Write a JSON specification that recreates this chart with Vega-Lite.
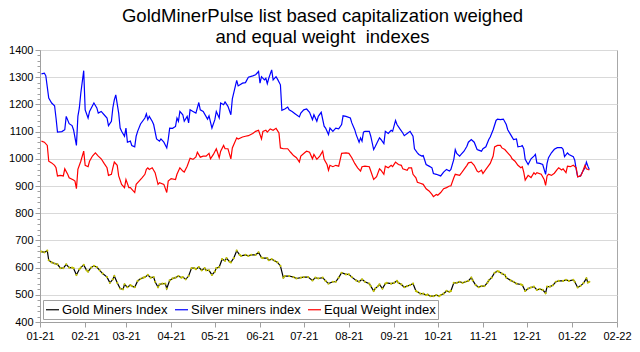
{
  "$schema": "https://vega.github.io/schema/vega-lite/v6.json",
  "width": 577,
  "height": 272,
  "autosize": "none",
  "padding": {"left": 40, "top": 50, "right": 23, "bottom": 30},
  "background": "white",
  "title": {
    "text": ["GoldMinerPulse list based capitalization weighed", "and equal weight \u00a0indexes"],
    "font": "Liberation Sans", "fontSize": 18.5, "fontWeight": "normal", "color": "#000000",
    "anchor": "middle", "lineHeight": 21, "offset": -2, "dx": -6
  },
  "config": {
    "view": {"stroke": "#a8a8a8", "strokeWidth": 1},
    "axis": {"labelFont": "Liberation Sans", "labelFontSize": 11, "labelColor": "#000000", "domainColor": "#a0a0a0", "tickColor": "#a0a0a0", "title": null},
    "legend": {
      "orient": "bottom-left", "direction": "horizontal", "title": null,
      "strokeColor": "#a0a0a0", "fillColor": "white", "padding": 2, "offset": 3,
      "labelFont": "Liberation Sans", "labelFontSize": 13, "labelColor": "#000000",
      "symbolType": "stroke", "symbolSize": 169, "symbolStrokeWidth": 1.2, "columnPadding": 4, "labelOffset": 2
    }
  },
  "data": {
    "format": {"parse": {"date": "date:'%Y-%j'"}},
    "values": [
      {"series":"Silver miners index","date":"2021-002","value":1312},{"series":"Silver miners index","date":"2021-004","value":1315},{"series":"Silver miners index","date":"2021-005","value":1305},{"series":"Silver miners index","date":"2021-007","value":1223},{"series":"Silver miners index","date":"2021-009","value":1205},{"series":"Silver miners index","date":"2021-011","value":1195},{"series":"Silver miners index","date":"2021-012","value":1150},{"series":"Silver miners index","date":"2021-013","value":1098},{"series":"Silver miners index","date":"2021-016","value":1100},{"series":"Silver miners index","date":"2021-018","value":1107},{"series":"Silver miners index","date":"2021-019","value":1156},{"series":"Silver miners index","date":"2021-021","value":1129},{"series":"Silver miners index","date":"2021-023","value":1122},{"series":"Silver miners index","date":"2021-024","value":1107},{"series":"Silver miners index","date":"2021-026","value":1049},{"series":"Silver miners index","date":"2021-027","value":1156},{"series":"Silver miners index","date":"2021-028","value":1187},{"series":"Silver miners index","date":"2021-029","value":1241},{"series":"Silver miners index","date":"2021-031","value":1324},{"series":"Silver miners index","date":"2021-032","value":1180},{"series":"Silver miners index","date":"2021-034","value":1150},{"series":"Silver miners index","date":"2021-035","value":1174},{"series":"Silver miners index","date":"2021-038","value":1205},{"series":"Silver miners index","date":"2021-040","value":1187},{"series":"Silver miners index","date":"2021-041","value":1168},{"series":"Silver miners index","date":"2021-043","value":1174},{"series":"Silver miners index","date":"2021-045","value":1162},{"series":"Silver miners index","date":"2021-047","value":1150},{"series":"Silver miners index","date":"2021-048","value":1122},{"series":"Silver miners index","date":"2021-050","value":1138},{"series":"Silver miners index","date":"2021-051","value":1187},{"series":"Silver miners index","date":"2021-052","value":1217},{"series":"Silver miners index","date":"2021-053","value":1235},{"series":"Silver miners index","date":"2021-055","value":1168},{"series":"Silver miners index","date":"2021-056","value":1113},{"series":"Silver miners index","date":"2021-057","value":1101},{"series":"Silver miners index","date":"2021-059","value":1083},{"series":"Silver miners index","date":"2021-060","value":1113},{"series":"Silver miners index","date":"2021-061","value":1061},{"series":"Silver miners index","date":"2021-063","value":1065},{"series":"Silver miners index","date":"2021-064","value":1049},{"series":"Silver miners index","date":"2021-066","value":1044},{"series":"Silver miners index","date":"2021-067","value":1083},{"series":"Silver miners index","date":"2021-068","value":1101},{"series":"Silver miners index","date":"2021-070","value":1128},{"series":"Silver miners index","date":"2021-073","value":1150},{"series":"Silver miners index","date":"2021-074","value":1165},{"series":"Silver miners index","date":"2021-075","value":1144},{"series":"Silver miners index","date":"2021-076","value":1156},{"series":"Silver miners index","date":"2021-078","value":1138},{"series":"Silver miners index","date":"2021-079","value":1126},{"series":"Silver miners index","date":"2021-081","value":1073},{"series":"Silver miners index","date":"2021-083","value":1065},{"series":"Silver miners index","date":"2021-084","value":1073},{"series":"Silver miners index","date":"2021-086","value":1061},{"series":"Silver miners index","date":"2021-088","value":1040},{"series":"Silver miners index","date":"2021-089","value":1071},{"series":"Silver miners index","date":"2021-090","value":1113},{"series":"Silver miners index","date":"2021-092","value":1112},{"series":"Silver miners index","date":"2021-094","value":1119},{"series":"Silver miners index","date":"2021-095","value":1150},{"series":"Silver miners index","date":"2021-096","value":1138},{"series":"Silver miners index","date":"2021-097","value":1174},{"series":"Silver miners index","date":"2021-099","value":1162},{"series":"Silver miners index","date":"2021-100","value":1138},{"series":"Silver miners index","date":"2021-102","value":1156},{"series":"Silver miners index","date":"2021-103","value":1132},{"series":"Silver miners index","date":"2021-104","value":1180},{"series":"Silver miners index","date":"2021-106","value":1174},{"series":"Silver miners index","date":"2021-108","value":1168},{"series":"Silver miners index","date":"2021-110","value":1207},{"series":"Silver miners index","date":"2021-111","value":1180},{"series":"Silver miners index","date":"2021-113","value":1174},{"series":"Silver miners index","date":"2021-116","value":1146},{"series":"Silver miners index","date":"2021-117","value":1158},{"series":"Silver miners index","date":"2021-119","value":1113},{"series":"Silver miners index","date":"2021-121","value":1144},{"series":"Silver miners index","date":"2021-122","value":1174},{"series":"Silver miners index","date":"2021-124","value":1150},{"series":"Silver miners index","date":"2021-125","value":1205},{"series":"Silver miners index","date":"2021-127","value":1199},{"series":"Silver miners index","date":"2021-128","value":1209},{"series":"Silver miners index","date":"2021-130","value":1193},{"series":"Silver miners index","date":"2021-132","value":1162},{"series":"Silver miners index","date":"2021-133","value":1220},{"series":"Silver miners index","date":"2021-136","value":1288},{"series":"Silver miners index","date":"2021-137","value":1268},{"series":"Silver miners index","date":"2021-140","value":1278},{"series":"Silver miners index","date":"2021-142","value":1280},{"series":"Silver miners index","date":"2021-144","value":1300},{"series":"Silver miners index","date":"2021-147","value":1305},{"series":"Silver miners index","date":"2021-149","value":1309},{"series":"Silver miners index","date":"2021-151","value":1321},{"series":"Silver miners index","date":"2021-152","value":1278},{"series":"Silver miners index","date":"2021-153","value":1302},{"series":"Silver miners index","date":"2021-155","value":1290},{"series":"Silver miners index","date":"2021-156","value":1296},{"series":"Silver miners index","date":"2021-157","value":1276},{"series":"Silver miners index","date":"2021-158","value":1296},{"series":"Silver miners index","date":"2021-160","value":1327},{"series":"Silver miners index","date":"2021-161","value":1290},{"series":"Silver miners index","date":"2021-163","value":1302},{"series":"Silver miners index","date":"2021-164","value":1293},{"series":"Silver miners index","date":"2021-166","value":1272},{"series":"Silver miners index","date":"2021-167","value":1178},{"series":"Silver miners index","date":"2021-169","value":1183},{"series":"Silver miners index","date":"2021-171","value":1190},{"series":"Silver miners index","date":"2021-172","value":1180},{"series":"Silver miners index","date":"2021-174","value":1174},{"series":"Silver miners index","date":"2021-176","value":1166},{"series":"Silver miners index","date":"2021-179","value":1154},{"series":"Silver miners index","date":"2021-180","value":1168},{"series":"Silver miners index","date":"2021-182","value":1180},{"series":"Silver miners index","date":"2021-184","value":1183},{"series":"Silver miners index","date":"2021-186","value":1171},{"series":"Silver miners index","date":"2021-188","value":1144},{"series":"Silver miners index","date":"2021-189","value":1162},{"series":"Silver miners index","date":"2021-191","value":1138},{"series":"Silver miners index","date":"2021-192","value":1156},{"series":"Silver miners index","date":"2021-194","value":1171},{"series":"Silver miners index","date":"2021-196","value":1120},{"series":"Silver miners index","date":"2021-197","value":1113},{"series":"Silver miners index","date":"2021-199","value":1089},{"series":"Silver miners index","date":"2021-200","value":1113},{"series":"Silver miners index","date":"2021-202","value":1101},{"series":"Silver miners index","date":"2021-204","value":1113},{"series":"Silver miners index","date":"2021-206","value":1110},{"series":"Silver miners index","date":"2021-208","value":1126},{"series":"Silver miners index","date":"2021-209","value":1158},{"series":"Silver miners index","date":"2021-211","value":1156},{"series":"Silver miners index","date":"2021-214","value":1150},{"series":"Silver miners index","date":"2021-215","value":1132},{"series":"Silver miners index","date":"2021-217","value":1107},{"series":"Silver miners index","date":"2021-218","value":1089},{"series":"Silver miners index","date":"2021-220","value":1061},{"series":"Silver miners index","date":"2021-221","value":1077},{"series":"Silver miners index","date":"2021-222","value":1065},{"series":"Silver miners index","date":"2021-223","value":1098},{"series":"Silver miners index","date":"2021-224","value":1101},{"series":"Silver miners index","date":"2021-227","value":1101},{"series":"Silver miners index","date":"2021-228","value":1083},{"series":"Silver miners index","date":"2021-230","value":1034},{"series":"Silver miners index","date":"2021-231","value":1044},{"series":"Silver miners index","date":"2021-234","value":1077},{"series":"Silver miners index","date":"2021-235","value":1071},{"series":"Silver miners index","date":"2021-237","value":1056},{"series":"Silver miners index","date":"2021-238","value":1101},{"series":"Silver miners index","date":"2021-240","value":1093},{"series":"Silver miners index","date":"2021-242","value":1105},{"series":"Silver miners index","date":"2021-243","value":1101},{"series":"Silver miners index","date":"2021-245","value":1141},{"series":"Silver miners index","date":"2021-246","value":1126},{"series":"Silver miners index","date":"2021-248","value":1110},{"series":"Silver miners index","date":"2021-250","value":1095},{"series":"Silver miners index","date":"2021-251","value":1085},{"series":"Silver miners index","date":"2021-253","value":1093},{"series":"Silver miners index","date":"2021-255","value":1101},{"series":"Silver miners index","date":"2021-257","value":1083},{"series":"Silver miners index","date":"2021-258","value":1037},{"series":"Silver miners index","date":"2021-260","value":1022},{"series":"Silver miners index","date":"2021-261","value":1016},{"series":"Silver miners index","date":"2021-263","value":1010},{"series":"Silver miners index","date":"2021-264","value":1012},{"series":"Silver miners index","date":"2021-266","value":979},{"series":"Silver miners index","date":"2021-268","value":973},{"series":"Silver miners index","date":"2021-270","value":967},{"series":"Silver miners index","date":"2021-271","value":946},{"series":"Silver miners index","date":"2021-273","value":943},{"series":"Silver miners index","date":"2021-275","value":939},{"series":"Silver miners index","date":"2021-276","value":937},{"series":"Silver miners index","date":"2021-278","value":951},{"series":"Silver miners index","date":"2021-280","value":961},{"series":"Silver miners index","date":"2021-282","value":955},{"series":"Silver miners index","date":"2021-283","value":961},{"series":"Silver miners index","date":"2021-285","value":998},{"series":"Silver miners index","date":"2021-286","value":1034},{"series":"Silver miners index","date":"2021-287","value":1020},{"series":"Silver miners index","date":"2021-289","value":1010},{"series":"Silver miners index","date":"2021-290","value":1016},{"series":"Silver miners index","date":"2021-292","value":1028},{"series":"Silver miners index","date":"2021-294","value":1046},{"series":"Silver miners index","date":"2021-295","value":1061},{"series":"Silver miners index","date":"2021-297","value":1071},{"series":"Silver miners index","date":"2021-299","value":1061},{"series":"Silver miners index","date":"2021-301","value":1034},{"series":"Silver miners index","date":"2021-302","value":1032},{"series":"Silver miners index","date":"2021-304","value":1028},{"series":"Silver miners index","date":"2021-305","value":1037},{"series":"Silver miners index","date":"2021-307","value":1044},{"series":"Silver miners index","date":"2021-309","value":1071},{"series":"Silver miners index","date":"2021-310","value":1080},{"series":"Silver miners index","date":"2021-312","value":1107},{"series":"Silver miners index","date":"2021-314","value":1141},{"series":"Silver miners index","date":"2021-315","value":1146},{"series":"Silver miners index","date":"2021-317","value":1144},{"series":"Silver miners index","date":"2021-319","value":1146},{"series":"Silver miners index","date":"2021-321","value":1126},{"series":"Silver miners index","date":"2021-322","value":1107},{"series":"Silver miners index","date":"2021-324","value":1089},{"series":"Silver miners index","date":"2021-326","value":1071},{"series":"Silver miners index","date":"2021-328","value":1073},{"series":"Silver miners index","date":"2021-329","value":1044},{"series":"Silver miners index","date":"2021-331","value":1046},{"series":"Silver miners index","date":"2021-332","value":1049},{"series":"Silver miners index","date":"2021-333","value":1037},{"series":"Silver miners index","date":"2021-334","value":998},{"series":"Silver miners index","date":"2021-336","value":979},{"series":"Silver miners index","date":"2021-338","value":1000},{"series":"Silver miners index","date":"2021-340","value":1010},{"series":"Silver miners index","date":"2021-341","value":1016},{"series":"Silver miners index","date":"2021-342","value":985},{"series":"Silver miners index","date":"2021-344","value":983},{"series":"Silver miners index","date":"2021-346","value":979},{"series":"Silver miners index","date":"2021-348","value":943},{"series":"Silver miners index","date":"2021-349","value":983},{"series":"Silver miners index","date":"2021-350","value":1004},{"series":"Silver miners index","date":"2021-352","value":1022},{"series":"Silver miners index","date":"2021-354","value":1035},{"series":"Silver miners index","date":"2021-356","value":1041},{"series":"Silver miners index","date":"2021-359","value":1041},{"series":"Silver miners index","date":"2021-360","value":1035},{"series":"Silver miners index","date":"2021-361","value":1008},{"series":"Silver miners index","date":"2021-363","value":1022},{"series":"Silver miners index","date":"2021-364","value":1016},{"series":"Silver miners index","date":"2022-002","value":1008},{"series":"Silver miners index","date":"2022-003","value":995},{"series":"Silver miners index","date":"2022-004","value":961},{"series":"Silver miners index","date":"2022-005","value":934},{"series":"Silver miners index","date":"2022-007","value":937},{"series":"Silver miners index","date":"2022-008","value":949},{"series":"Silver miners index","date":"2022-010","value":967},{"series":"Silver miners index","date":"2022-011","value":988},{"series":"Silver miners index","date":"2022-012","value":973},{"series":"Silver miners index","date":"2022-013","value":961},
      {"series":"Equal Weight index","date":"2021-002","value":1065},{"series":"Equal Weight index","date":"2021-004","value":1061},{"series":"Equal Weight index","date":"2021-006","value":1049},{"series":"Equal Weight index","date":"2021-007","value":991},{"series":"Equal Weight index","date":"2021-009","value":985},{"series":"Equal Weight index","date":"2021-011","value":976},{"series":"Equal Weight index","date":"2021-012","value":967},{"series":"Equal Weight index","date":"2021-013","value":937},{"series":"Equal Weight index","date":"2021-015","value":939},{"series":"Equal Weight index","date":"2021-017","value":937},{"series":"Equal Weight index","date":"2021-018","value":963},{"series":"Equal Weight index","date":"2021-020","value":943},{"series":"Equal Weight index","date":"2021-021","value":930},{"series":"Equal Weight index","date":"2021-024","value":922},{"series":"Equal Weight index","date":"2021-025","value":918},{"series":"Equal Weight index","date":"2021-026","value":890},{"series":"Equal Weight index","date":"2021-027","value":961},{"series":"Equal Weight index","date":"2021-029","value":991},{"series":"Equal Weight index","date":"2021-031","value":1028},{"series":"Equal Weight index","date":"2021-032","value":976},{"series":"Equal Weight index","date":"2021-034","value":971},{"series":"Equal Weight index","date":"2021-035","value":991},{"series":"Equal Weight index","date":"2021-037","value":1010},{"series":"Equal Weight index","date":"2021-039","value":1022},{"series":"Equal Weight index","date":"2021-041","value":1010},{"series":"Equal Weight index","date":"2021-043","value":1000},{"series":"Equal Weight index","date":"2021-045","value":983},{"series":"Equal Weight index","date":"2021-047","value":967},{"series":"Equal Weight index","date":"2021-048","value":939},{"series":"Equal Weight index","date":"2021-050","value":943},{"series":"Equal Weight index","date":"2021-051","value":967},{"series":"Equal Weight index","date":"2021-052","value":988},{"series":"Equal Weight index","date":"2021-054","value":976},{"series":"Equal Weight index","date":"2021-055","value":937},{"series":"Equal Weight index","date":"2021-057","value":906},{"series":"Equal Weight index","date":"2021-059","value":894},{"series":"Equal Weight index","date":"2021-060","value":924},{"series":"Equal Weight index","date":"2021-062","value":894},{"series":"Equal Weight index","date":"2021-063","value":894},{"series":"Equal Weight index","date":"2021-066","value":876},{"series":"Equal Weight index","date":"2021-067","value":906},{"series":"Equal Weight index","date":"2021-069","value":918},{"series":"Equal Weight index","date":"2021-071","value":930},{"series":"Equal Weight index","date":"2021-073","value":943},{"series":"Equal Weight index","date":"2021-074","value":961},{"series":"Equal Weight index","date":"2021-075","value":967},{"series":"Equal Weight index","date":"2021-076","value":961},{"series":"Equal Weight index","date":"2021-078","value":967},{"series":"Equal Weight index","date":"2021-080","value":949},{"series":"Equal Weight index","date":"2021-082","value":906},{"series":"Equal Weight index","date":"2021-083","value":912},{"series":"Equal Weight index","date":"2021-086","value":906},{"series":"Equal Weight index","date":"2021-088","value":876},{"series":"Equal Weight index","date":"2021-089","value":918},{"series":"Equal Weight index","date":"2021-091","value":927},{"series":"Equal Weight index","date":"2021-094","value":924},{"series":"Equal Weight index","date":"2021-095","value":943},{"series":"Equal Weight index","date":"2021-097","value":967},{"series":"Equal Weight index","date":"2021-099","value":955},{"series":"Equal Weight index","date":"2021-100","value":951},{"series":"Equal Weight index","date":"2021-102","value":973},{"series":"Equal Weight index","date":"2021-104","value":1002},{"series":"Equal Weight index","date":"2021-106","value":998},{"series":"Equal Weight index","date":"2021-108","value":1007},{"series":"Equal Weight index","date":"2021-109","value":1024},{"series":"Equal Weight index","date":"2021-111","value":1006},{"series":"Equal Weight index","date":"2021-113","value":1010},{"series":"Equal Weight index","date":"2021-115","value":1010},{"series":"Equal Weight index","date":"2021-117","value":1020},{"series":"Equal Weight index","date":"2021-118","value":1000},{"series":"Equal Weight index","date":"2021-120","value":1016},{"series":"Equal Weight index","date":"2021-122","value":1037},{"series":"Equal Weight index","date":"2021-124","value":1004},{"series":"Equal Weight index","date":"2021-125","value":1028},{"series":"Equal Weight index","date":"2021-127","value":1049},{"series":"Equal Weight index","date":"2021-128","value":1037},{"series":"Equal Weight index","date":"2021-130","value":1037},{"series":"Equal Weight index","date":"2021-132","value":1000},{"series":"Equal Weight index","date":"2021-133","value":1040},{"series":"Equal Weight index","date":"2021-136","value":1077},{"series":"Equal Weight index","date":"2021-137","value":1073},{"series":"Equal Weight index","date":"2021-140","value":1080},{"series":"Equal Weight index","date":"2021-142","value":1083},{"series":"Equal Weight index","date":"2021-144","value":1085},{"series":"Equal Weight index","date":"2021-147","value":1093},{"series":"Equal Weight index","date":"2021-149","value":1101},{"series":"Equal Weight index","date":"2021-151","value":1105},{"series":"Equal Weight index","date":"2021-153","value":1073},{"series":"Equal Weight index","date":"2021-154","value":1101},{"series":"Equal Weight index","date":"2021-156","value":1105},{"series":"Equal Weight index","date":"2021-157","value":1098},{"series":"Equal Weight index","date":"2021-159","value":1110},{"series":"Equal Weight index","date":"2021-161","value":1105},{"series":"Equal Weight index","date":"2021-163","value":1112},{"series":"Equal Weight index","date":"2021-165","value":1095},{"series":"Equal Weight index","date":"2021-166","value":1040},{"series":"Equal Weight index","date":"2021-168","value":1037},{"series":"Equal Weight index","date":"2021-171","value":1037},{"series":"Equal Weight index","date":"2021-173","value":1024},{"series":"Equal Weight index","date":"2021-175","value":1012},{"series":"Equal Weight index","date":"2021-177","value":1004},{"series":"Equal Weight index","date":"2021-179","value":988},{"series":"Equal Weight index","date":"2021-180","value":1010},{"series":"Equal Weight index","date":"2021-183","value":1024},{"series":"Equal Weight index","date":"2021-184","value":1028},{"series":"Equal Weight index","date":"2021-186","value":1024},{"series":"Equal Weight index","date":"2021-188","value":1000},{"series":"Equal Weight index","date":"2021-189","value":1016},{"series":"Equal Weight index","date":"2021-191","value":998},{"series":"Equal Weight index","date":"2021-193","value":1010},{"series":"Equal Weight index","date":"2021-195","value":1028},{"series":"Equal Weight index","date":"2021-196","value":998},{"series":"Equal Weight index","date":"2021-198","value":979},{"series":"Equal Weight index","date":"2021-199","value":958},{"series":"Equal Weight index","date":"2021-200","value":976},{"series":"Equal Weight index","date":"2021-202","value":971},{"series":"Equal Weight index","date":"2021-204","value":976},{"series":"Equal Weight index","date":"2021-206","value":973},{"series":"Equal Weight index","date":"2021-208","value":1020},{"series":"Equal Weight index","date":"2021-211","value":1022},{"series":"Equal Weight index","date":"2021-213","value":1020},{"series":"Equal Weight index","date":"2021-215","value":1004},{"series":"Equal Weight index","date":"2021-217","value":983},{"series":"Equal Weight index","date":"2021-219","value":967},{"series":"Equal Weight index","date":"2021-221","value":955},{"series":"Equal Weight index","date":"2021-222","value":971},{"series":"Equal Weight index","date":"2021-224","value":973},{"series":"Equal Weight index","date":"2021-227","value":971},{"series":"Equal Weight index","date":"2021-228","value":955},{"series":"Equal Weight index","date":"2021-230","value":924},{"series":"Equal Weight index","date":"2021-232","value":934},{"series":"Equal Weight index","date":"2021-234","value":963},{"series":"Equal Weight index","date":"2021-235","value":958},{"series":"Equal Weight index","date":"2021-237","value":943},{"series":"Equal Weight index","date":"2021-238","value":973},{"series":"Equal Weight index","date":"2021-240","value":967},{"series":"Equal Weight index","date":"2021-242","value":976},{"series":"Equal Weight index","date":"2021-243","value":971},{"series":"Equal Weight index","date":"2021-245","value":988},{"series":"Equal Weight index","date":"2021-247","value":979},{"series":"Equal Weight index","date":"2021-249","value":976},{"series":"Equal Weight index","date":"2021-250","value":963},{"series":"Equal Weight index","date":"2021-253","value":958},{"series":"Equal Weight index","date":"2021-254","value":967},{"series":"Equal Weight index","date":"2021-256","value":967},{"series":"Equal Weight index","date":"2021-257","value":943},{"series":"Equal Weight index","date":"2021-259","value":930},{"series":"Equal Weight index","date":"2021-260","value":914},{"series":"Equal Weight index","date":"2021-262","value":910},{"series":"Equal Weight index","date":"2021-264","value":906},{"series":"Equal Weight index","date":"2021-266","value":890},{"series":"Equal Weight index","date":"2021-268","value":882},{"series":"Equal Weight index","date":"2021-270","value":869},{"series":"Equal Weight index","date":"2021-271","value":861},{"series":"Equal Weight index","date":"2021-273","value":869},{"series":"Equal Weight index","date":"2021-274","value":866},{"series":"Equal Weight index","date":"2021-276","value":876},{"series":"Equal Weight index","date":"2021-278","value":890},{"series":"Equal Weight index","date":"2021-280","value":894},{"series":"Equal Weight index","date":"2021-282","value":900},{"series":"Equal Weight index","date":"2021-283","value":900},{"series":"Equal Weight index","date":"2021-285","value":930},{"series":"Equal Weight index","date":"2021-286","value":943},{"series":"Equal Weight index","date":"2021-289","value":939},{"series":"Equal Weight index","date":"2021-290","value":946},{"series":"Equal Weight index","date":"2021-292","value":961},{"series":"Equal Weight index","date":"2021-294","value":976},{"series":"Equal Weight index","date":"2021-295","value":985},{"series":"Equal Weight index","date":"2021-297","value":988},{"series":"Equal Weight index","date":"2021-299","value":976},{"series":"Equal Weight index","date":"2021-301","value":955},{"series":"Equal Weight index","date":"2021-302","value":951},{"series":"Equal Weight index","date":"2021-304","value":958},{"series":"Equal Weight index","date":"2021-305","value":946},{"series":"Equal Weight index","date":"2021-307","value":961},{"series":"Equal Weight index","date":"2021-309","value":976},{"series":"Equal Weight index","date":"2021-310","value":983},{"series":"Equal Weight index","date":"2021-312","value":1010},{"series":"Equal Weight index","date":"2021-313","value":1044},{"series":"Equal Weight index","date":"2021-315","value":1049},{"series":"Equal Weight index","date":"2021-317","value":1049},{"series":"Equal Weight index","date":"2021-318","value":1040},{"series":"Equal Weight index","date":"2021-320","value":1034},{"series":"Equal Weight index","date":"2021-322","value":1022},{"series":"Equal Weight index","date":"2021-324","value":1010},{"series":"Equal Weight index","date":"2021-325","value":1000},{"series":"Equal Weight index","date":"2021-327","value":991},{"series":"Equal Weight index","date":"2021-329","value":976},{"series":"Equal Weight index","date":"2021-331","value":967},{"series":"Equal Weight index","date":"2021-332","value":971},{"series":"Equal Weight index","date":"2021-333","value":951},{"series":"Equal Weight index","date":"2021-334","value":922},{"series":"Equal Weight index","date":"2021-336","value":939},{"series":"Equal Weight index","date":"2021-338","value":931},{"series":"Equal Weight index","date":"2021-340","value":949},{"series":"Equal Weight index","date":"2021-341","value":943},{"series":"Equal Weight index","date":"2021-342","value":949},{"series":"Equal Weight index","date":"2021-345","value":943},{"series":"Equal Weight index","date":"2021-347","value":924},{"series":"Equal Weight index","date":"2021-348","value":902},{"series":"Equal Weight index","date":"2021-349","value":937},{"series":"Equal Weight index","date":"2021-350","value":943},{"series":"Equal Weight index","date":"2021-352","value":939},{"series":"Equal Weight index","date":"2021-354","value":947},{"series":"Equal Weight index","date":"2021-356","value":961},{"series":"Equal Weight index","date":"2021-357","value":967},{"series":"Equal Weight index","date":"2021-359","value":959},{"series":"Equal Weight index","date":"2021-360","value":963},{"series":"Equal Weight index","date":"2021-362","value":949},{"series":"Equal Weight index","date":"2021-363","value":973},{"series":"Equal Weight index","date":"2021-365","value":971},{"series":"Equal Weight index","date":"2022-002","value":976},{"series":"Equal Weight index","date":"2022-004","value":967},{"series":"Equal Weight index","date":"2022-005","value":934},{"series":"Equal Weight index","date":"2022-007","value":937},{"series":"Equal Weight index","date":"2022-008","value":947},{"series":"Equal Weight index","date":"2022-010","value":976},{"series":"Equal Weight index","date":"2022-011","value":963},{"series":"Equal Weight index","date":"2022-013","value":959},
      {"series":"Gold Miners Index","date":"2021-002","value":659},{"series":"Gold Miners Index","date":"2021-004","value":656},{"series":"Gold Miners Index","date":"2021-006","value":662},{"series":"Gold Miners Index","date":"2021-007","value":627},{"series":"Gold Miners Index","date":"2021-009","value":619},{"series":"Gold Miners Index","date":"2021-011","value":615},{"series":"Gold Miners Index","date":"2021-013","value":612},{"series":"Gold Miners Index","date":"2021-015","value":598},{"series":"Gold Miners Index","date":"2021-017","value":598},{"series":"Gold Miners Index","date":"2021-019","value":612},{"series":"Gold Miners Index","date":"2021-021","value":600},{"series":"Gold Miners Index","date":"2021-023","value":600},{"series":"Gold Miners Index","date":"2021-024","value":598},{"series":"Gold Miners Index","date":"2021-026","value":573},{"series":"Gold Miners Index","date":"2021-028","value":594},{"series":"Gold Miners Index","date":"2021-029","value":600},{"series":"Gold Miners Index","date":"2021-031","value":610},{"series":"Gold Miners Index","date":"2021-033","value":590},{"series":"Gold Miners Index","date":"2021-034","value":585},{"series":"Gold Miners Index","date":"2021-036","value":600},{"series":"Gold Miners Index","date":"2021-038","value":606},{"series":"Gold Miners Index","date":"2021-040","value":602},{"series":"Gold Miners Index","date":"2021-042","value":590},{"series":"Gold Miners Index","date":"2021-044","value":578},{"series":"Gold Miners Index","date":"2021-047","value":565},{"series":"Gold Miners Index","date":"2021-049","value":544},{"series":"Gold Miners Index","date":"2021-051","value":557},{"series":"Gold Miners Index","date":"2021-052","value":569},{"series":"Gold Miners Index","date":"2021-054","value":544},{"series":"Gold Miners Index","date":"2021-056","value":523},{"series":"Gold Miners Index","date":"2021-058","value":520},{"series":"Gold Miners Index","date":"2021-059","value":538},{"series":"Gold Miners Index","date":"2021-061","value":528},{"series":"Gold Miners Index","date":"2021-063","value":536},{"series":"Gold Miners Index","date":"2021-064","value":532},{"series":"Gold Miners Index","date":"2021-066","value":528},{"series":"Gold Miners Index","date":"2021-068","value":551},{"series":"Gold Miners Index","date":"2021-070","value":559},{"series":"Gold Miners Index","date":"2021-072","value":563},{"series":"Gold Miners Index","date":"2021-073","value":565},{"series":"Gold Miners Index","date":"2021-075","value":573},{"series":"Gold Miners Index","date":"2021-077","value":563},{"series":"Gold Miners Index","date":"2021-079","value":565},{"series":"Gold Miners Index","date":"2021-080","value":548},{"series":"Gold Miners Index","date":"2021-082","value":528},{"series":"Gold Miners Index","date":"2021-083","value":538},{"series":"Gold Miners Index","date":"2021-085","value":541},{"series":"Gold Miners Index","date":"2021-087","value":541},{"series":"Gold Miners Index","date":"2021-088","value":523},{"series":"Gold Miners Index","date":"2021-090","value":553},{"series":"Gold Miners Index","date":"2021-092","value":560},{"series":"Gold Miners Index","date":"2021-094","value":563},{"series":"Gold Miners Index","date":"2021-096","value":569},{"series":"Gold Miners Index","date":"2021-098","value":563},{"series":"Gold Miners Index","date":"2021-099","value":565},{"series":"Gold Miners Index","date":"2021-101","value":557},{"series":"Gold Miners Index","date":"2021-103","value":569},{"series":"Gold Miners Index","date":"2021-105","value":598},{"series":"Gold Miners Index","date":"2021-107","value":598},{"series":"Gold Miners Index","date":"2021-108","value":594},{"series":"Gold Miners Index","date":"2021-110","value":602},{"series":"Gold Miners Index","date":"2021-112","value":590},{"series":"Gold Miners Index","date":"2021-114","value":598},{"series":"Gold Miners Index","date":"2021-115","value":590},{"series":"Gold Miners Index","date":"2021-117","value":590},{"series":"Gold Miners Index","date":"2021-119","value":573},{"series":"Gold Miners Index","date":"2021-121","value":585},{"series":"Gold Miners Index","date":"2021-122","value":598},{"series":"Gold Miners Index","date":"2021-124","value":602},{"series":"Gold Miners Index","date":"2021-126","value":631},{"series":"Gold Miners Index","date":"2021-128","value":625},{"series":"Gold Miners Index","date":"2021-129","value":635},{"series":"Gold Miners Index","date":"2021-131","value":622},{"series":"Gold Miners Index","date":"2021-132","value":619},{"series":"Gold Miners Index","date":"2021-134","value":635},{"series":"Gold Miners Index","date":"2021-136","value":662},{"series":"Gold Miners Index","date":"2021-138","value":647},{"series":"Gold Miners Index","date":"2021-139","value":643},{"series":"Gold Miners Index","date":"2021-142","value":647},{"series":"Gold Miners Index","date":"2021-144","value":643},{"series":"Gold Miners Index","date":"2021-146","value":647},{"series":"Gold Miners Index","date":"2021-149","value":647},{"series":"Gold Miners Index","date":"2021-151","value":656},{"series":"Gold Miners Index","date":"2021-153","value":637},{"series":"Gold Miners Index","date":"2021-154","value":635},{"series":"Gold Miners Index","date":"2021-157","value":635},{"series":"Gold Miners Index","date":"2021-158","value":627},{"series":"Gold Miners Index","date":"2021-160","value":631},{"series":"Gold Miners Index","date":"2021-162","value":625},{"series":"Gold Miners Index","date":"2021-164","value":619},{"series":"Gold Miners Index","date":"2021-166","value":606},{"series":"Gold Miners Index","date":"2021-168","value":563},{"series":"Gold Miners Index","date":"2021-169","value":569},{"series":"Gold Miners Index","date":"2021-172","value":569},{"series":"Gold Miners Index","date":"2021-175","value":565},{"series":"Gold Miners Index","date":"2021-177","value":560},{"series":"Gold Miners Index","date":"2021-180","value":563},{"series":"Gold Miners Index","date":"2021-182","value":565},{"series":"Gold Miners Index","date":"2021-185","value":565},{"series":"Gold Miners Index","date":"2021-188","value":553},{"series":"Gold Miners Index","date":"2021-190","value":563},{"series":"Gold Miners Index","date":"2021-192","value":560},{"series":"Gold Miners Index","date":"2021-195","value":563},{"series":"Gold Miners Index","date":"2021-197","value":551},{"series":"Gold Miners Index","date":"2021-199","value":541},{"series":"Gold Miners Index","date":"2021-202","value":548},{"series":"Gold Miners Index","date":"2021-204","value":548},{"series":"Gold Miners Index","date":"2021-206","value":563},{"series":"Gold Miners Index","date":"2021-208","value":581},{"series":"Gold Miners Index","date":"2021-211","value":575},{"series":"Gold Miners Index","date":"2021-213","value":575},{"series":"Gold Miners Index","date":"2021-215","value":565},{"series":"Gold Miners Index","date":"2021-218","value":553},{"series":"Gold Miners Index","date":"2021-220","value":548},{"series":"Gold Miners Index","date":"2021-222","value":557},{"series":"Gold Miners Index","date":"2021-224","value":548},{"series":"Gold Miners Index","date":"2021-227","value":541},{"series":"Gold Miners Index","date":"2021-228","value":532},{"series":"Gold Miners Index","date":"2021-230","value":514},{"series":"Gold Miners Index","date":"2021-231","value":523},{"series":"Gold Miners Index","date":"2021-233","value":532},{"series":"Gold Miners Index","date":"2021-234","value":538},{"series":"Gold Miners Index","date":"2021-236","value":523},{"series":"Gold Miners Index","date":"2021-238","value":541},{"series":"Gold Miners Index","date":"2021-239","value":544},{"series":"Gold Miners Index","date":"2021-242","value":541},{"series":"Gold Miners Index","date":"2021-244","value":544},{"series":"Gold Miners Index","date":"2021-246","value":551},{"series":"Gold Miners Index","date":"2021-247","value":544},{"series":"Gold Miners Index","date":"2021-249","value":538},{"series":"Gold Miners Index","date":"2021-251","value":528},{"series":"Gold Miners Index","date":"2021-253","value":532},{"series":"Gold Miners Index","date":"2021-255","value":536},{"series":"Gold Miners Index","date":"2021-257","value":541},{"series":"Gold Miners Index","date":"2021-259","value":514},{"series":"Gold Miners Index","date":"2021-260","value":511},{"series":"Gold Miners Index","date":"2021-262","value":504},{"series":"Gold Miners Index","date":"2021-264","value":504},{"series":"Gold Miners Index","date":"2021-266","value":499},{"series":"Gold Miners Index","date":"2021-267","value":501},{"series":"Gold Miners Index","date":"2021-269","value":495},{"series":"Gold Miners Index","date":"2021-271","value":495},{"series":"Gold Miners Index","date":"2021-273","value":499},{"series":"Gold Miners Index","date":"2021-275","value":495},{"series":"Gold Miners Index","date":"2021-276","value":499},{"series":"Gold Miners Index","date":"2021-278","value":504},{"series":"Gold Miners Index","date":"2021-280","value":514},{"series":"Gold Miners Index","date":"2021-282","value":511},{"series":"Gold Miners Index","date":"2021-283","value":514},{"series":"Gold Miners Index","date":"2021-285","value":544},{"series":"Gold Miners Index","date":"2021-287","value":544},{"series":"Gold Miners Index","date":"2021-289","value":548},{"series":"Gold Miners Index","date":"2021-291","value":544},{"series":"Gold Miners Index","date":"2021-293","value":548},{"series":"Gold Miners Index","date":"2021-295","value":551},{"series":"Gold Miners Index","date":"2021-297","value":563},{"series":"Gold Miners Index","date":"2021-298","value":553},{"series":"Gold Miners Index","date":"2021-300","value":536},{"series":"Gold Miners Index","date":"2021-302","value":528},{"series":"Gold Miners Index","date":"2021-304","value":532},{"series":"Gold Miners Index","date":"2021-306","value":532},{"series":"Gold Miners Index","date":"2021-308","value":544},{"series":"Gold Miners Index","date":"2021-309","value":553},{"series":"Gold Miners Index","date":"2021-311","value":563},{"series":"Gold Miners Index","date":"2021-313","value":581},{"series":"Gold Miners Index","date":"2021-315","value":587},{"series":"Gold Miners Index","date":"2021-316","value":585},{"series":"Gold Miners Index","date":"2021-318","value":578},{"series":"Gold Miners Index","date":"2021-320","value":573},{"series":"Gold Miners Index","date":"2021-321","value":563},{"series":"Gold Miners Index","date":"2021-324","value":553},{"series":"Gold Miners Index","date":"2021-326","value":548},{"series":"Gold Miners Index","date":"2021-328","value":541},{"series":"Gold Miners Index","date":"2021-331","value":538},{"series":"Gold Miners Index","date":"2021-332","value":536},{"series":"Gold Miners Index","date":"2021-334","value":514},{"series":"Gold Miners Index","date":"2021-336","value":523},{"series":"Gold Miners Index","date":"2021-338","value":527},{"series":"Gold Miners Index","date":"2021-340","value":530},{"series":"Gold Miners Index","date":"2021-342","value":518},{"series":"Gold Miners Index","date":"2021-344","value":521},{"series":"Gold Miners Index","date":"2021-346","value":518},{"series":"Gold Miners Index","date":"2021-348","value":506},{"series":"Gold Miners Index","date":"2021-349","value":530},{"series":"Gold Miners Index","date":"2021-351","value":530},{"series":"Gold Miners Index","date":"2021-353","value":535},{"series":"Gold Miners Index","date":"2021-355","value":548},{"series":"Gold Miners Index","date":"2021-357","value":551},{"series":"Gold Miners Index","date":"2021-360","value":551},{"series":"Gold Miners Index","date":"2021-362","value":555},{"series":"Gold Miners Index","date":"2021-364","value":551},{"series":"Gold Miners Index","date":"2022-002","value":555},{"series":"Gold Miners Index","date":"2022-003","value":548},{"series":"Gold Miners Index","date":"2022-005","value":527},{"series":"Gold Miners Index","date":"2022-007","value":533},{"series":"Gold Miners Index","date":"2022-009","value":543},{"series":"Gold Miners Index","date":"2022-011","value":560},{"series":"Gold Miners Index","date":"2022-012","value":545},{"series":"Gold Miners Index","date":"2022-013","value":548}
    ]
  },
  "encoding": {
    "x": {
      "field": "date", "type": "temporal",
      "scale": {"domain": [{"year": 2021, "month": 1, "date": 1}, {"year": 2022, "month": 2, "date": 1}]},
      "axis": {"format": "%m-%y", "tickCount": {"interval": "month", "step": 1}, "grid": false, "tickSize": 5, "labelPadding": 3, "labelFlush": false, "labelOverlap": false}
    },
    "y": {"field": "value", "type": "quantitative", "scale": {"domain": [400, 1400], "nice": false},
          "axis": {
            "values": [400,420,440,460,480,500,520,540,560,580,600,620,640,660,680,700,720,740,760,780,800,820,840,860,880,900,920,940,960,980,1000,1020,1040,1060,1080,1100,1120,1140,1160,1180,1200,1220,1240,1260,1280,1300,1320,1340,1360,1380,1400],
            "labelExpr": "datum.value % 100 === 0 ? format(datum.value, 'd') : ''",
            "labelOverlap": false,
            "grid": true,
            "gridColor": "#d9d9d9",
            "gridOpacity": {"condition": {"test": "datum.value % 100 === 0", "value": 1}, "value": 0},
            "tickSize": {"condition": {"test": "datum.value % 100 === 0", "value": 5}, "value": 3},
            "labelPadding": 2
          }}
  },
  "layer": [
    {
      "mark": {"type": "line", "strokeWidth": 1.2, "interpolate": "linear"},
      "encoding": {
        "color": {"field": "series", "type": "nominal",
                  "scale": {"domain": ["Gold Miners Index", "Silver miners index", "Equal Weight index"], "range": ["#000000", "#0000ff", "#ff0000"]}},
        "order": {"field": "date", "type": "temporal"}
      }
    },
    {
      "transform": [{"filter": "datum.series == 'Gold Miners Index'"}],
      "mark": {"type": "point", "filled": true, "size": 5, "color": "#c4c400", "opacity": 1}
    }
  ]
}
